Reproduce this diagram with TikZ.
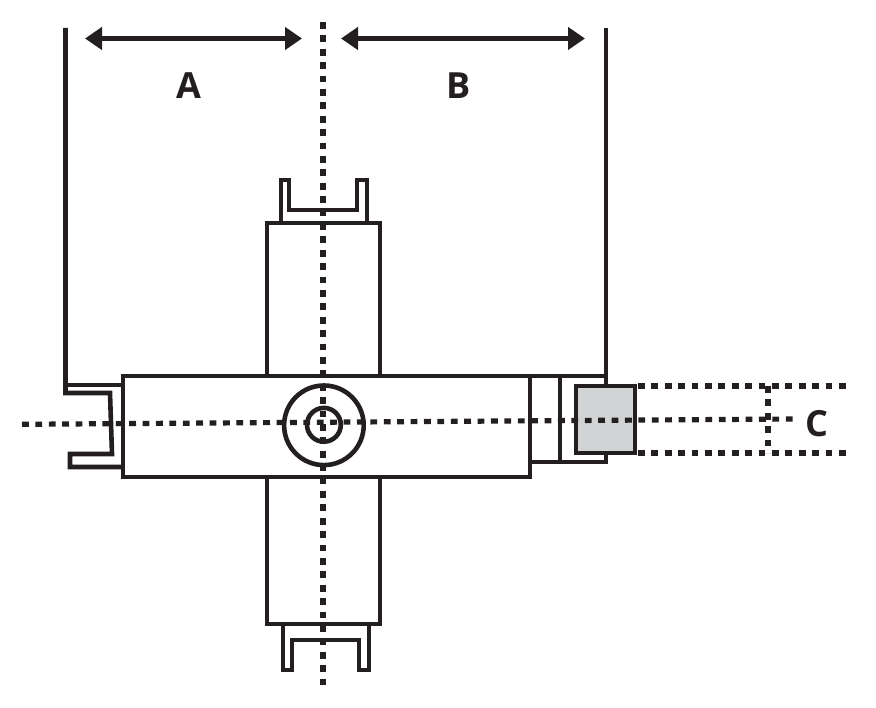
\documentclass[tikz,border=0pt]{standalone}
\usepackage{fontspec}
\setsansfont{Open Sans}
\usetikzlibrary{arrows.meta}
\definecolor{ink}{HTML}{231F20}
\definecolor{blockgray}{HTML}{D1D3D4}
\tikzset{>={Triangle[length=17pt,width=22pt]}}
\tikzset{part/.style={draw=ink, line width=4.6pt, miter limit=10}}
\tikzset{axisline/.style={draw=ink, line width=5.2pt, dash pattern=on 6.8pt off 6.6pt}}
\tikzset{spanline/.style={draw=ink, line width=4.4pt, <->}}
\tikzset{letter/.style={text=ink, font=\sffamily\bfseries\fontsize{36}{36}\selectfont, inner sep=0pt}}
\begin{document}
\begin{tikzpicture}[x=1pt, y=-1pt]
    \useasboundingbox (0, 0) rectangle (876, 708);
    \draw[part] (65.5, 28) -- (65.5, 393) -- (110, 393) -- (112, 454) -- (70, 454) -- (70, 467) -- (123, 467);
    \draw[part] (65.5, 385) -- (123, 385);
    \draw[part] (530, 376) -- (606, 376);
    \draw[part] (606, 28) -- (606, 462) -- (530, 462);
    \draw[part] (560, 376) -- (560, 462);
    % upper and lower arms
    \draw[part] (267, 376) -- (267, 223) -- (380, 223) -- (380, 376);
    \draw[part] (281, 223) -- (281, 180) -- (289, 180) -- (289, 210) -- (357, 210) -- (357, 180) -- (367, 180) -- (367, 223);
    \draw[part] (267, 477) -- (267, 624) -- (380, 624) -- (380, 477);
    \draw[part] (283, 624) -- (283, 670) -- (292, 670) -- (292, 640) -- (359, 640) -- (359, 670) -- (369, 670) -- (369, 624);
    % main body
    \draw[part] (123, 376) rectangle (530, 477);
    \draw[part] (323.9, 425.3) circle [radius = 39.8];
    \draw[part] (323.9, 424.8) circle [radius = 16.9];
    \draw[part, fill=blockgray] (576, 386) rectangle (635, 453);
    % centre lines
    \draw[axisline] (323, 22) -- (323, 686);
    \draw[axisline] (22, 424.3) -- (795, 419);
    \draw[axisline] (638, 386) -- (846, 386);
    \draw[axisline] (638, 453) -- (846, 453);
    \draw[axisline] (768, 386) -- (768, 453);
    % spans
    \coordinate (spanAleft) at (85, 38.5);
    \coordinate (spanAright) at (302, 38.5);
    \coordinate (spanBleft) at (341, 38.5);
    \coordinate (spanBright) at (585, 38.5);
    \draw[spanline] (spanAleft) -- (spanAright);
    \draw[spanline] (spanBleft) -- (spanBright);
    \node[letter] (labelA) at (189, 85.5) {A};
    \node[letter] (labelB) at (459, 85.5) {B};
    \node[letter] (labelC) at (817, 424) {C};
\end{tikzpicture}
\end{document}
